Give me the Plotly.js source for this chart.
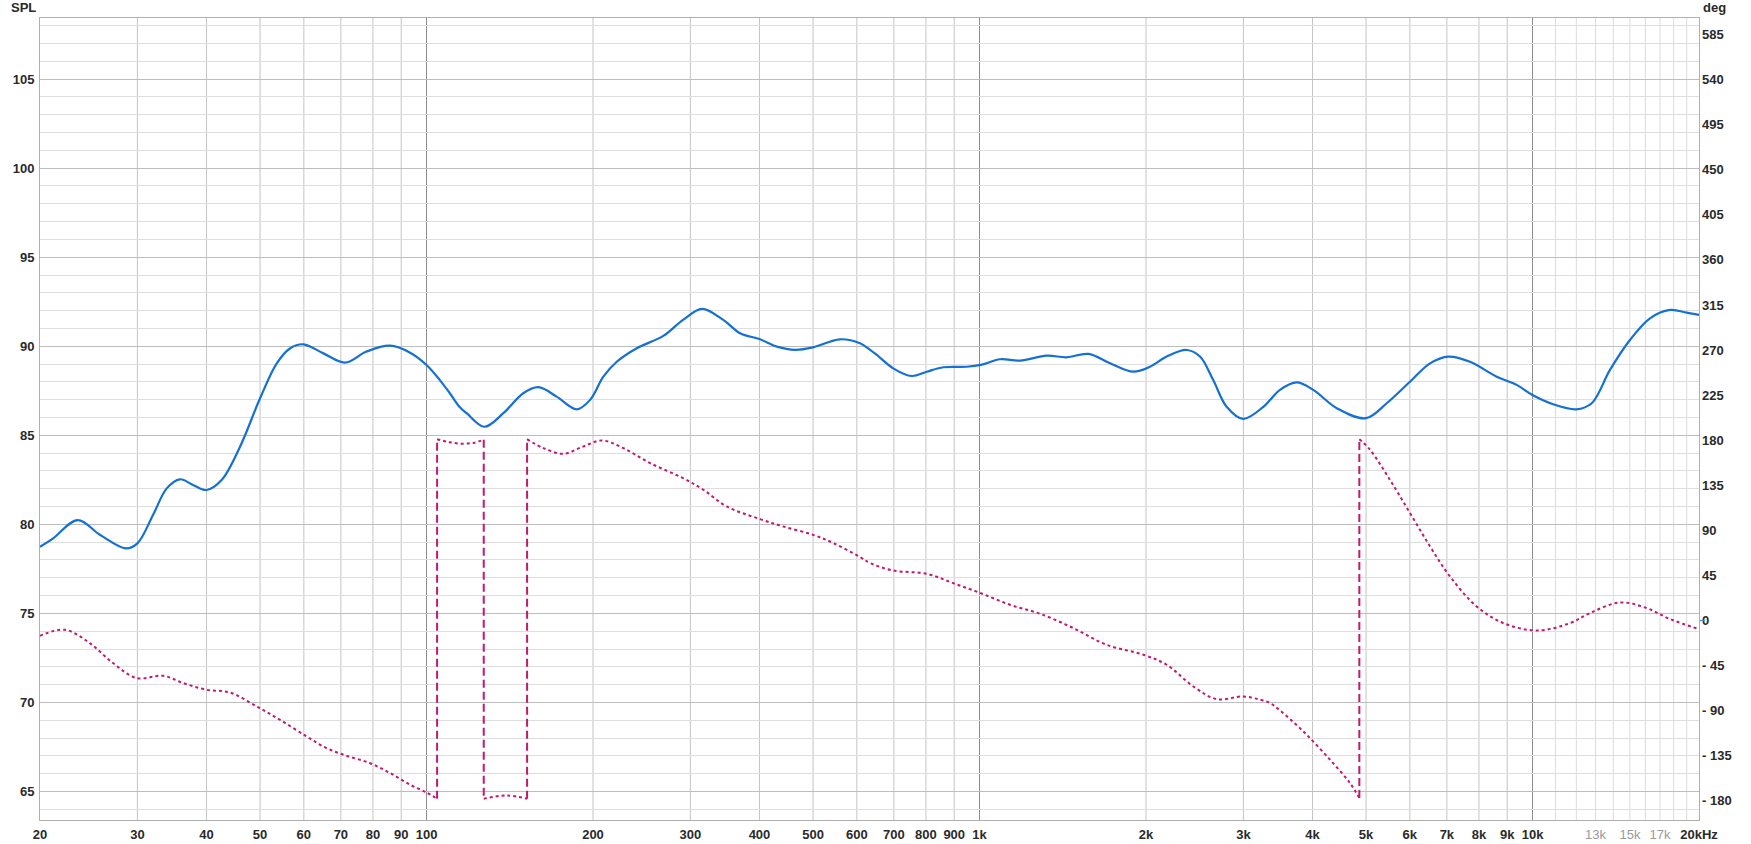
<!DOCTYPE html>
<html><head><meta charset="utf-8">
<script src="https://cdn.plot.ly/plotly-3.0.1.min.js"></script>
<style>html,body{margin:0;padding:0;background:#fff;}#chart{width:1751px;height:844px;}</style>
</head><body><div id="chart"></div>
<script>
// SPL magnitude (dB) vs frequency (Hz)
const splFreq = [20,21.1,23.4,25.7,28.6,30,32.1,33.9,35.8,37.9,40,42.6,46,50,53.6,56.7,59.9,65.1,71.2,77.9,85.9,93.4,100,105.7,110.2,114.9,118.2,127.2,137.7,149.6,159.3,171.9,186.9,197.5,208.8,220.8,240,268,291,315,344,369,401,430,464,500,559,608,634,652,698,754,803,860,948,1005,1089,1184,1323,1438,1573,1722,1897,2034,2180,2370,2504,2646,2798,2998,3260,3352,3494,3746,4013,4426,4998,5449,6004,6527,7044,7708,8614,9362,10000,10902,12000,12794,13806,15000,16308,17730,19000,20000];
const splDb = [78.74,79.2,80.24,79.4,78.65,78.93,80.6,82.02,82.53,82.2,81.93,82.49,84.36,87.08,89.04,89.89,90.11,89.6,89.08,89.7,90.03,89.64,88.95,88.1,87.36,86.57,86.24,85.48,86.24,87.36,87.7,87.17,86.46,86.98,88.29,89.13,89.89,90.58,91.48,92.1,91.48,90.73,90.39,89.98,89.8,89.94,90.39,90.17,89.8,89.51,88.76,88.33,88.57,88.82,88.85,88.95,89.27,89.19,89.47,89.38,89.57,89.04,88.57,88.85,89.42,89.79,89.42,88.1,86.6,85.92,86.6,86.98,87.55,87.97,87.55,86.52,85.96,86.8,88.01,89.04,89.42,89.13,88.29,87.83,87.26,86.74,86.46,86.8,88.67,90.35,91.57,92.04,91.89,91.76];

// Phase (deg) vs frequency, null = phase wrap
const phaseFreq = [20,22.2,24.6,27.1,29.9,33.4,36.3,40,44.1,49.3,54.3,60.7,65.9,71.6,78.9,85.9,93.4,100,104.5,null,104.5,110,116,122,126.9,null,126.9,139.6,152,null,152,162.6,176.8,192,207.4,226.9,253.7,291,316.6,349,401,441.8,500,544,608,634,698,803,896,1005,1135,1287,1478,1698,1978,2180,2436,2684,2998,3216,3352,3494,3851,4303,4676,4862,null,4862,5084,5523,6004,6527,7093,7925,8854,10200,11690,12703,14392,16086,17730,20000];
const phaseDeg = [-15.3,-9.3,-22.6,-42.5,-57.5,-55.2,-62.5,-69.2,-71.9,-85.8,-99.1,-115.8,-127.4,-135,-142.3,-152.3,-164,-171.7,-178,null,181,178,176.5,177.5,180.5,null,-178,-174.7,-178,null,181,172.1,166.4,173.7,179.7,172.1,157.1,142.1,130.5,113.8,101.2,93.8,85.5,77.3,63.3,57.3,49.9,46.6,37.3,27.3,15.7,6.7,-7.6,-24.3,-34.2,-44.2,-65.9,-78.5,-75.9,-79.1,-82.4,-89.8,-110.8,-139,-162.3,-177.3,null,181,170.4,140.4,107.2,73.9,43.9,14,-2.6,-10,-2.6,7.4,18,12.4,1.4,-8.6];

// Phase wrap jumps
const wrapFreq = [104.5,126.9,152,4862];
const wrapFrom = [-178,180.5,-178,-177.3];
const wrapTo = [181,-178,181,181];

// Axis labels
const xTickVals = [20,30,40,50,60,70,80,90,100,200,300,400,500,600,700,800,900,1000,2000,3000,4000,5000,6000,7000,8000,9000,10000,13000,15000,17000,20000];
const xTickText = ["20","30","40","50","60","70","80","90","100","200","300","400","500","600","700","800","900","1k","2k","3k","4k","5k","6k","7k","8k","9k","10k","<span style=\"color:#9a9a9a;font-weight:normal\">13k</span>","<span style=\"color:#9a9a9a;font-weight:normal\">15k</span>","<span style=\"color:#9a9a9a;font-weight:normal\">17k</span>","20kHz"];
const dbTicks = [65,70,75,80,85,90,95,100,105];
const degTicks = [-180,-135,-90,-45,0,45,90,135,180,225,270,315,360,405,450,495,540,585];
const degTickText = ["- 180","- 135","- 90","- 45","0","45","90","135","180","225","270","315","360","405","450","495","540","585"];

// Vertical grid frequencies
const gridMid = [30,40,50,60,70,80,90,200,300,400,500,600,700,800,900,2000,3000,4000,5000,6000,7000,8000,9000];
const gridDark = [100,1000,10000];
const gridLight = [11000,12000,13000,14000,15000,16000,17000,18000,19000];

const FONT = "Liberation Sans Narrow, Arial Narrow, sans-serif";
const TF = {family:FONT, size:13, color:'#2a2a2a', weight:'bold'};

const shapes = [];
function vline(f, color) {
  shapes.push({type:'line', xref:'x', yref:'paper', x0:f, x1:f, y0:0, y1:1, layer:'below', line:{color:color, width:1}});
}
gridLight.forEach(f => vline(f, '#dcdcdc'));
gridMid.forEach(f => vline(f, '#c4c4c4'));
gridDark.forEach(f => vline(f, '#8c8c8c'));
// blue zero marker on the phase axis
shapes.push({type:'line', xref:'paper', yref:'y2', x0:1.0005, x1:1.0035, y0:0, y1:0, line:{color:'#3a86d8', width:1}});

const wrapX = [], wrapY = [];
wrapFreq.forEach((f, i) => { wrapX.push(f, f, null); wrapY.push(wrapFrom[i], wrapTo[i], null); });

const traces = [
  {x: phaseFreq, y: phaseDeg, yaxis:'y2', type:'scatter', mode:'lines', connectgaps:false,
   line:{color:'#c2186e', width:2, dash:'dot', shape:'spline', smoothing:1}, hoverinfo:'skip'},
  {x: wrapX, y: wrapY, yaxis:'y2', type:'scatter', mode:'lines', connectgaps:false,
   line:{color:'#c2186e', width:2, dash:'8px,4px'}, hoverinfo:'skip'},
  {x: splFreq, y: splDb, type:'scatter', mode:'lines',
   line:{color:'#1570d6', width:2.2, shape:'spline', smoothing:1}, hoverinfo:'skip'}
];

const layout = {
  width:1751, height:844,
  margin:{l:40, r:52, t:18, b:24},
  paper_bgcolor:'#ffffff', plot_bgcolor:'#ffffff',
  showlegend:false,
  font:TF,
  xaxis:{type:'log', range:[Math.log10(20), Math.log10(20000)],
    tickmode:'array', tickvals:xTickVals, ticktext:xTickText, showgrid:false, zeroline:false,
    showline:true, linecolor:'#b0b0b0', linewidth:1, mirror:true, ticks:'', ticklabelstandoff:2,
    tickfont:TF},
  yaxis:{range:[63.4, 108.43], tickmode:'array', tickvals:dbTicks, showgrid:true, gridcolor:'#bdbdbd', gridwidth:1,
    zeroline:false, showline:true, linecolor:'#b0b0b0', mirror:true, ticks:'', ticklabelstandoff:2,
    minor:{dtick:1, tick0:0, showgrid:true, gridcolor:'#dedede', gridwidth:1, ticks:''},
    tickfont:TF},
  yaxis2:{overlaying:'y', side:'right', range:[-199.2, 601.5], tickmode:'array', tickvals:degTicks, ticktext:degTickText,
    showgrid:false, zeroline:false, showline:false, ticks:'', ticklabelstandoff:2,
    tickfont:TF},
  shapes: shapes,
  annotations:[
    {xref:'paper', yref:'paper', x:0, y:1, xanchor:'right', yanchor:'bottom', xshift:-2, yshift:1, text:'SPL', showarrow:false, font:{family:FONT, size:13, color:'#2a2a2a'}},
    {xref:'paper', yref:'paper', x:1, y:1, xanchor:'left', yanchor:'bottom', xshift:2, yshift:1, text:'deg', showarrow:false, font:{family:FONT, size:13, color:'#2a2a2a'}}
  ]
};

Plotly.newPlot('chart', traces, layout, {displayModeBar:false, staticPlot:true});
</script>
</body></html>
